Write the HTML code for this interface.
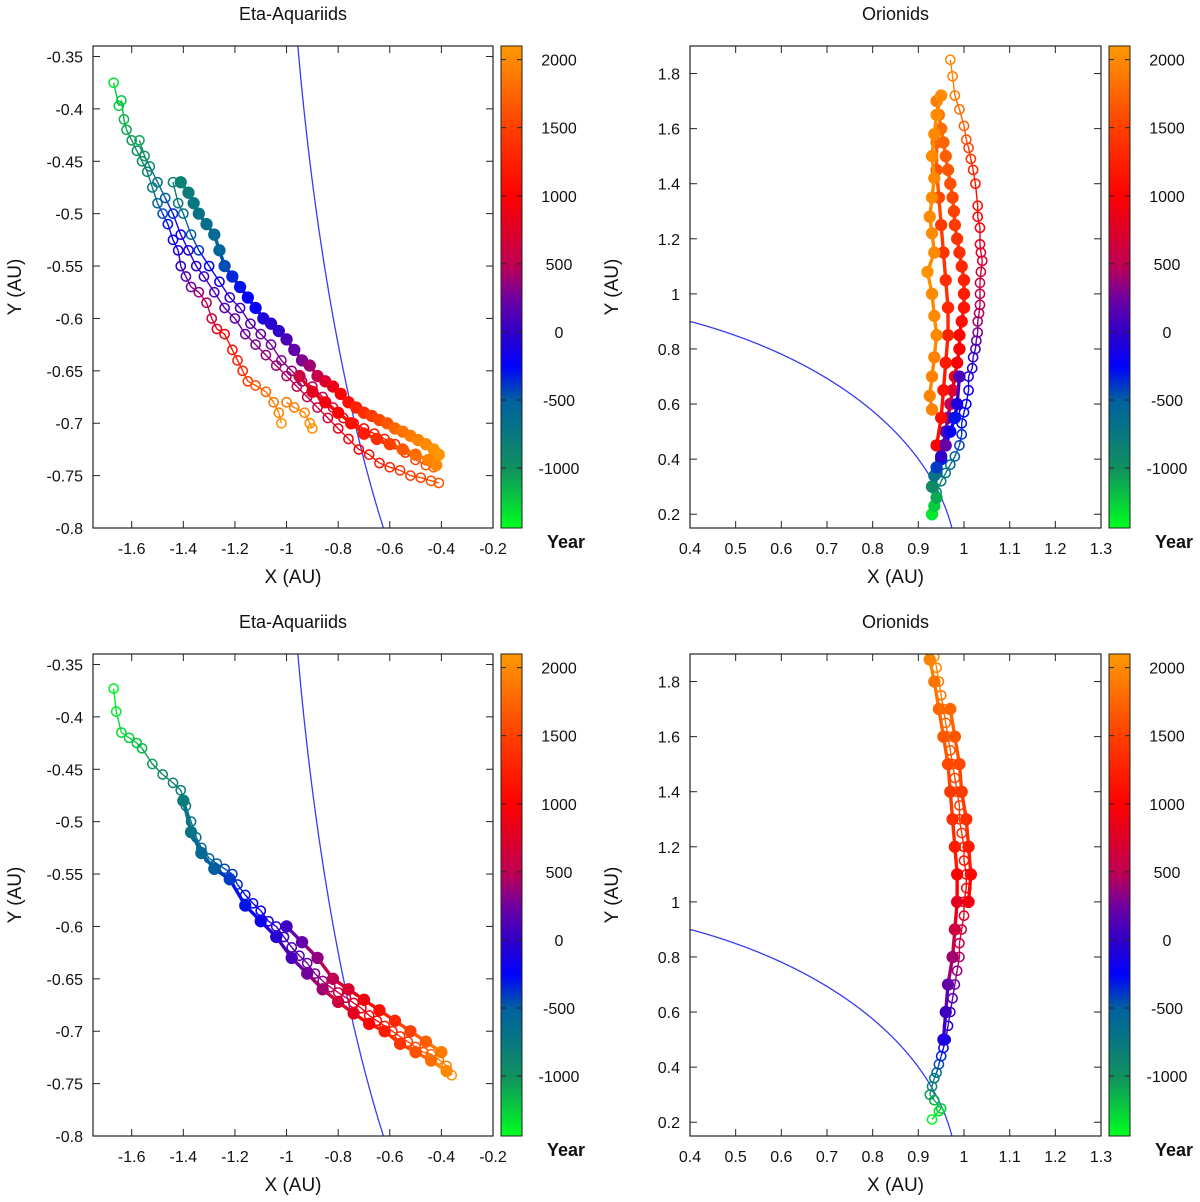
<!DOCTYPE html>
<html><head><meta charset="utf-8"><style>
html,body{margin:0;padding:0;background:#fff;width:1200px;height:1202px;overflow:hidden;}
svg{display:block;}
svg text{font-family:"Liberation Sans","DejaVu Sans",sans-serif;fill:#111;}
</style></head><body>
<svg id="fig" width="1200" height="1202" viewBox="0 0 1200 1202" xmlns="http://www.w3.org/2000/svg"></svg>
<script>
// ---- Data: each point is [x AU, y AU, year] ----
const xTicksLeft = [-1.6,-1.4,-1.2,-1,-0.8,-0.6,-0.4,-0.2];
const yTicksLeft = [-0.35,-0.4,-0.45,-0.5,-0.55,-0.6,-0.65,-0.7,-0.75,-0.8];
const xTicksRight = [0.4,0.5,0.6,0.7,0.8,0.9,1,1.1,1.2,1.3];
const yTicksRight = [0.2,0.4,0.6,0.8,1,1.2,1.4,1.6,1.8];
const cbTicks = [2000,1500,1000,500,0,-500,-1000];

const tlOpen1 = [[-1.67,-0.375,-1350],[-1.65,-0.397,-1250],[-1.64,-0.392,-1200],[-1.63,-0.41,-1150],[-1.62,-0.42,-1100],[-1.6,-0.43,-1050],[-1.58,-0.44,-1000],[-1.56,-0.45,-950],[-1.54,-0.46,-900],[-1.52,-0.475,-800],[-1.5,-0.49,-600],[-1.48,-0.5,-450],[-1.46,-0.51,-300],[-1.44,-0.525,-200],[-1.42,-0.535,-100],[-1.41,-0.55,0],[-1.39,-0.56,150],[-1.37,-0.57,250],[-1.34,-0.575,350],[-1.31,-0.585,450],[-1.29,-0.6,600],[-1.27,-0.61,800],[-1.24,-0.615,1000],[-1.21,-0.63,1100],[-1.19,-0.64,1200],[-1.17,-0.65,1300],[-1.15,-0.66,1450],[-1.12,-0.664,1600],[-1.08,-0.67,1750],[-1.05,-0.68,1850],[-1.03,-0.69,1950],[-1.02,-0.70,2050]];
const tlOpen2 = [[-1.57,-0.43,-1100],[-1.55,-0.445,-1000],[-1.53,-0.455,-900],[-1.5,-0.47,-700],[-1.47,-0.485,-500],[-1.44,-0.5,-350],[-1.41,-0.52,-200],[-1.38,-0.535,-100],[-1.35,-0.55,0],[-1.32,-0.56,50],[-1.28,-0.575,100],[-1.24,-0.59,150],[-1.2,-0.6,200],[-1.16,-0.615,250],[-1.12,-0.625,300],[-1.08,-0.635,350],[-1.04,-0.645,400],[-1.0,-0.655,450],[-0.96,-0.665,500],[-0.92,-0.675,550],[-0.88,-0.685,600],[-0.84,-0.695,700],[-0.8,-0.705,800],[-0.76,-0.715,900],[-0.72,-0.725,1000],[-0.68,-0.73,1100],[-0.64,-0.738,1200],[-0.6,-0.742,1300],[-0.56,-0.745,1400],[-0.52,-0.75,1500],[-0.48,-0.752,1550],[-0.44,-0.755,1600],[-0.41,-0.757,1650]];
const tlOpen3 = [[-1.44,-0.47,-900],[-1.42,-0.49,-800],[-1.4,-0.5,-700],[-1.37,-0.52,-550],[-1.34,-0.535,-400],[-1.3,-0.55,-250],[-1.26,-0.565,-150],[-1.22,-0.58,-50],[-1.18,-0.59,50],[-1.14,-0.605,150],[-1.1,-0.615,200],[-1.06,-0.625,250],[-1.02,-0.64,300],[-0.98,-0.65,350],[-0.94,-0.66,400],[-0.9,-0.665,500],[-0.86,-0.675,600],[-0.82,-0.685,700],[-0.78,-0.695,800],[-0.74,-0.7,900],[-0.7,-0.705,1000],[-0.66,-0.71,1100],[-0.62,-0.715,1200],[-0.58,-0.72,1300],[-0.54,-0.728,1400],[-0.5,-0.735,1500],[-0.46,-0.74,1600],[-0.43,-0.742,1700]];
const tlSpur = [[-1.0,-0.68,1850],[-0.97,-0.685,1900],[-0.93,-0.69,1950],[-0.91,-0.70,2000],[-0.9,-0.705,2050]];
const tlFilled1 = [[-1.41,-0.47,-850],[-1.38,-0.48,-800],[-1.36,-0.49,-750],[-1.34,-0.5,-700],[-1.31,-0.51,-650],[-1.28,-0.52,-600],[-1.26,-0.535,-550],[-1.24,-0.55,-450],[-1.21,-0.56,-350],[-1.18,-0.57,-300],[-1.15,-0.58,-250],[-1.12,-0.59,-200],[-1.09,-0.6,-100],[-1.06,-0.605,-50],[-1.03,-0.612,0],[-1.0,-0.62,100],[-0.97,-0.63,200],[-0.94,-0.64,300],[-0.91,-0.645,400],[-0.88,-0.655,550],[-0.85,-0.66,700],[-0.82,-0.665,850],[-0.79,-0.672,1000],[-0.76,-0.68,1100],[-0.73,-0.685,1250],[-0.7,-0.69,1350],[-0.67,-0.693,1450],[-0.64,-0.697,1550],[-0.61,-0.7,1650],[-0.58,-0.705,1750],[-0.55,-0.708,1850],[-0.52,-0.712,1900],[-0.49,-0.716,1950],[-0.46,-0.72,2000],[-0.43,-0.725,2050],[-0.41,-0.73,2080]];
const tlFilled2 = [[-0.95,-0.655,600],[-0.9,-0.67,800],[-0.85,-0.68,900],[-0.8,-0.69,1000],[-0.75,-0.7,1100],[-0.7,-0.71,1200],[-0.65,-0.715,1350],[-0.6,-0.72,1500],[-0.55,-0.725,1650],[-0.5,-0.73,1800],[-0.45,-0.735,1950],[-0.42,-0.74,2000]];

const trOpenRight = [[0.97,1.85,2000],[0.975,1.79,1950],[0.98,1.72,1900],[0.99,1.67,1800],[1.0,1.61,1700],[1.005,1.56,1600],[1.01,1.53,1500],[1.015,1.49,1400],[1.02,1.45,1300],[1.025,1.4,1200],[1.03,1.32,1100],[1.03,1.28,1000],[1.035,1.24,900],[1.035,1.18,800],[1.037,1.15,750],[1.04,1.12,700],[1.037,1.08,650],[1.035,1.04,600],[1.035,1.0,550],[1.035,0.96,500],[1.033,0.93,450],[1.03,0.9,400],[1.03,0.86,300],[1.027,0.83,200],[1.025,0.8,100],[1.02,0.77,0],[1.018,0.73,-50],[1.01,0.7,-100],[1.01,0.65,-150],[1.005,0.6,-200],[1.0,0.57,-250],[0.995,0.53,-300],[0.995,0.49,-350],[0.99,0.45,-400],[0.98,0.41,-500],[0.97,0.38,-600],[0.96,0.35,-700],[0.95,0.32,-800],[0.94,0.28,-900]];
const trFilledMain = [[0.93,0.3,-900],[0.94,0.35,-600],[0.95,0.4,-300],[0.955,0.45,-100],[0.96,0.5,100],[0.965,0.55,300],[0.97,0.6,500],[0.975,0.65,700],[0.98,0.7,850],[0.985,0.75,950],[0.99,0.8,1000],[0.99,0.85,1050],[0.995,0.9,1100],[1.0,0.95,1150],[1.0,1.0,1200],[1.0,1.05,1250],[0.995,1.1,1300],[0.99,1.15,1350],[0.985,1.2,1400],[0.98,1.25,1450],[0.978,1.3,1500],[0.975,1.35,1550],[0.97,1.4,1600],[0.965,1.45,1650],[0.96,1.5,1700],[0.955,1.55,1750],[0.95,1.6,1800],[0.945,1.65,1850],[0.94,1.7,1900]];
const trFilledMid = [[0.94,0.45,1000],[0.95,0.55,1100],[0.955,0.65,1150],[0.96,0.75,1200],[0.965,0.85,1250],[0.965,0.95,1300],[0.96,1.05,1350],[0.955,1.15,1400],[0.95,1.25,1450],[0.945,1.35,1550],[0.94,1.45,1650],[0.94,1.55,1750]];
const trLeftOrange = [[0.93,0.58,1950],[0.925,0.63,1950],[0.93,0.7,1950],[0.935,0.77,1950],[0.94,0.85,2000],[0.935,0.92,2000],[0.93,1.0,2000],[0.92,1.08,2050],[0.935,1.15,2000],[0.93,1.22,2000],[0.925,1.28,2000],[0.93,1.35,2000],[0.935,1.42,2000],[0.93,1.5,2000],[0.935,1.58,2000],[0.94,1.65,2000],[0.95,1.72,2000]];
const trBottom = [[0.93,0.2,-1350],[0.935,0.23,-1250],[0.94,0.26,-1100],[0.93,0.3,-950],[0.935,0.34,-700],[0.94,0.37,-400],[0.95,0.41,0],[0.96,0.45,200],[0.97,0.5,-200],[0.98,0.55,-300],[0.985,0.6,-100],[0.99,0.7,100]];

const blTrack1 = [[-1.67,-0.373,-1400],[-1.66,-0.395,-1350],[-1.64,-0.415,-1300],[-1.61,-0.42,-1250],[-1.58,-0.425,-1200],[-1.56,-0.43,-1150],[-1.52,-0.445,-1050],[-1.48,-0.455,-950],[-1.44,-0.463,-850],[-1.41,-0.47,-800],[-1.39,-0.485,-750],[-1.37,-0.5,-700],[-1.35,-0.515,-650],[-1.33,-0.525,-600],[-1.3,-0.535,-550],[-1.27,-0.54,-500],[-1.24,-0.545,-450],[-1.21,-0.55,-400],[-1.19,-0.56,-350],[-1.16,-0.57,-300],[-1.13,-0.578,-250],[-1.1,-0.585,-200],[-1.07,-0.595,-100],[-1.04,-0.6,-50],[-1.01,-0.61,0],[-0.98,-0.62,100],[-0.95,-0.628,150],[-0.92,-0.635,200],[-0.89,-0.645,300],[-0.86,-0.652,350],[-0.83,-0.658,450],[-0.8,-0.663,550],[-0.77,-0.668,650],[-0.74,-0.673,750],[-0.71,-0.678,850],[-0.68,-0.685,950],[-0.65,-0.69,1050],[-0.62,-0.695,1150],[-0.59,-0.7,1250],[-0.56,-0.705,1350],[-0.53,-0.71,1450],[-0.5,-0.715,1550],[-0.47,-0.72,1650],[-0.44,-0.722,1750],[-0.41,-0.727,1850],[-0.38,-0.733,1950],[-0.36,-0.742,2050]];
const blTrack2 = [[-1.4,-0.48,-800],[-1.37,-0.51,-700],[-1.33,-0.53,-600],[-1.28,-0.545,-500],[-1.22,-0.555,-400],[-1.16,-0.58,-300],[-1.1,-0.595,-200],[-1.04,-0.61,-50],[-0.98,-0.63,100],[-0.92,-0.645,250],[-0.86,-0.66,400],[-0.8,-0.672,600],[-0.74,-0.683,800],[-0.68,-0.693,1000],[-0.62,-0.7,1200],[-0.56,-0.712,1400],[-0.5,-0.72,1600],[-0.44,-0.728,1800],[-0.38,-0.738,2000]];
const blTrack3 = [[-1.0,-0.6,50],[-0.94,-0.615,200],[-0.88,-0.63,350],[-0.82,-0.65,500],[-0.76,-0.66,700],[-0.7,-0.67,900],[-0.64,-0.68,1100],[-0.58,-0.69,1300],[-0.52,-0.7,1500],[-0.46,-0.71,1700],[-0.4,-0.72,1900]];

const brTrack1 = [[0.93,0.21,-1400],[0.945,0.24,-1300],[0.95,0.25,-1250],[0.935,0.28,-1150],[0.925,0.3,-1050],[0.93,0.33,-950],[0.935,0.36,-800],[0.94,0.38,-600],[0.945,0.41,-450],[0.95,0.44,-350],[0.955,0.47,-250],[0.96,0.5,-150],[0.965,0.55,-50],[0.97,0.6,50],[0.975,0.65,150],[0.98,0.7,250],[0.985,0.75,350],[0.99,0.8,450],[0.99,0.85,550],[0.995,0.9,650],[1.0,0.95,750],[1.0,1.0,850],[1.005,1.05,950],[1.005,1.1,1050],[1.0,1.15,1150],[1.0,1.2,1250],[0.995,1.25,1350],[0.99,1.3,1400],[0.99,1.35,1450],[0.985,1.4,1500],[0.98,1.45,1550],[0.975,1.5,1600],[0.97,1.55,1650],[0.965,1.6,1700],[0.96,1.65,1750],[0.955,1.7,1800],[0.95,1.75,1850],[0.945,1.8,1900],[0.94,1.85,1950],[0.935,1.89,2000]];
const brTrack2 = [[0.955,0.5,-100],[0.96,0.6,50],[0.965,0.7,200],[0.975,0.8,400],[0.98,0.9,600],[0.985,1.0,800],[0.985,1.1,1000],[0.98,1.2,1200],[0.975,1.3,1350],[0.97,1.4,1450],[0.965,1.5,1550],[0.955,1.6,1650],[0.945,1.7,1750],[0.935,1.8,1850],[0.925,1.88,1950]];
const brTrack3 = [[1.01,1.0,900],[1.015,1.1,1050],[1.01,1.2,1200],[1.005,1.3,1350],[0.995,1.4,1450],[0.99,1.5,1550],[0.98,1.6,1650],[0.97,1.7,1750]];

// ---- colormap ----
const cmapYears = [-1440,-1000,-500,-250,0,250,500,1000,1500,2100];
const cmapCols = [[0,255,32],[16,144,96],[0,96,160],[0,0,255],[48,0,200],[112,0,160],[192,0,80],[255,0,0],[255,64,0],[255,153,0]];
function color(yr){
  if(yr<=cmapYears[0]) return `rgb(${cmapCols[0]})`;
  for(let i=1;i<cmapYears.length;i++){
    if(yr<=cmapYears[i]){
      const t=(yr-cmapYears[i-1])/(cmapYears[i]-cmapYears[i-1]);
      const a=cmapCols[i-1],b=cmapCols[i];
      return `rgb(${a.map((v,k)=>Math.round(v+(b[k]-v)*t)).join(',')})`;
    }
  }
  return `rgb(${cmapCols[cmapCols.length-1]})`;
}

const NS='http://www.w3.org/2000/svg';
const svg=document.getElementById('fig');
function mk(tag,attrs,parent){const e=document.createElementNS(NS,tag);for(const k in attrs)e.setAttribute(k,attrs[k]);(parent||svg).appendChild(e);return e;}

function panel(p){
  const g=mk('g',{});
  
  
  const sx=v=>p.L+(v-p.xmin)/(p.xmax-p.xmin)*(p.R-p.L);
  const sy=v=>p.B-(v-p.ymin)/(p.ymax-p.ymin)*(p.B-p.T);
  const cid='clip'+p.id;
  const cp=mk('clipPath',{id:cid},g); mk('rect',{x:p.L,y:p.T,width:p.R-p.L,height:p.B-p.T},cp);
  const plot=mk('g',{'clip-path':`url(#${cid})`},g);
  
  
  // earth orbit: only points inside the plot box (plus small margin)
  let d='', pen=false;
  for(let i=0;i<=2880;i++){
    const a=i/2880*2*Math.PI;const X=sx(p.r*Math.cos(a)),Y=sy(p.r*Math.sin(a));
    if(X>=p.L-3&&X<=p.R+3&&Y>=p.T-3&&Y<=p.B+3){d+=(pen?'L':'M')+X.toFixed(1)+','+Y.toFixed(1);pen=true;}
    else pen=false;
  }
  const orb=mk('path',{d:d,fill:'none',stroke:'#3a3af0','stroke-width':1.3},plot);
  
  
  p.tracks.forEach((tr,ti)=>{
    const tg=mk('g',{},plot);
    
    
    const pts=tr.data;
    for(let i=1;i<pts.length;i++){
      mk('line',{x1:sx(pts[i-1][0]),y1:sy(pts[i-1][1]),x2:sx(pts[i][0]),y2:sy(pts[i][1]),stroke:color(pts[i][2]),'stroke-width':tr.filled?3.4:1.4},tg);
    }
    pts.forEach(q=>{
      const c=mk('circle',{cx:sx(q[0]),cy:sy(q[1]),r:tr.filled?5.4:4.6,fill:tr.filled?color(q[2]):'none',stroke:color(q[2]),'stroke-width':1.5},tg);
      
      
    });
  });
  const fr=mk('rect',{x:p.L,y:p.T,width:p.R-p.L,height:p.B-p.T,fill:'none',stroke:'#222','stroke-width':1.2},g);
  
  
  p.xt.forEach(v=>{const x=sx(v);
    mk('line',{x1:x,y1:p.B,x2:x,y2:p.B-7,stroke:'#222'},g);mk('line',{x1:x,y1:p.T,x2:x,y2:p.T+7,stroke:'#222'},g);
    const t=mk('text',{x:x,y:p.B+26,'text-anchor':'middle','font-size':16},g);t.textContent=String(v);
    
    
  });
  p.yt.forEach(v=>{const y=sy(v);
    mk('line',{x1:p.L,y1:y,x2:p.L+7,y2:y,stroke:'#222'},g);mk('line',{x1:p.R,y1:y,x2:p.R-7,y2:y,stroke:'#222'},g);
    const t=mk('text',{x:p.L-10,y:y+6,'text-anchor':'end','font-size':16},g);t.textContent=String(v);
    
    
  });
  const tt=mk('text',{x:(p.L+p.R)/2,y:p.T-26,'text-anchor':'middle','font-size':18},g);tt.textContent=p.title;
  
  
  const xl=mk('text',{x:(p.L+p.R)/2,y:p.B+55,'text-anchor':'middle','font-size':19},g);xl.textContent='X (AU)';
  
  
  const yx=p.L-72, yy=(p.T+p.B)/2;
  const yl=mk('text',{x:yx,y:yy,'text-anchor':'middle','font-size':19,transform:`rotate(-90 ${yx} ${yy})`},g);yl.textContent='Y (AU)';
  
  
  const cbL=p.R+8, cbW=21;
  const cb=mk('g',{},g);
  
  
  const cbMin=-1440, cbMax=2100;
  const cy=v=>p.B-(v-cbMin)/(cbMax-cbMin)*(p.B-p.T);
  const gid='grad'+p.id;
  const lg=mk('linearGradient',{id:gid,x1:0,y1:1,x2:0,y2:0},cb);
  cmapYears.forEach(yv=>mk('stop',{offset:((yv-cbMin)/(cbMax-cbMin)).toFixed(4),'stop-color':color(yv)},lg));
  mk('rect',{x:cbL,y:p.T,width:cbW,height:p.B-p.T,fill:`url(#${gid})`,stroke:'#222','stroke-width':1},cb);
  cbTicks.forEach(v=>{const y=cy(v);
    mk('line',{x1:cbL,y1:y,x2:cbL+5,y2:y,stroke:'#222'},cb);mk('line',{x1:cbL+cbW,y1:y,x2:cbL+cbW-5,y2:y,stroke:'#222'},cb);
    const t=mk('text',{x:cbL+cbW+37,y:y+6,'text-anchor':'middle','font-size':16},cb);t.textContent=String(v);
    
    
  });
  const yr=mk('text',{x:cbL+cbW+44,y:p.B+20,'text-anchor':'middle','font-size':18,'font-weight':'bold'},cb);yr.textContent='Year';
  
  
}

const leftBase={L:93,R:493,xmin:-1.75,xmax:-0.2,ymin:-0.8,ymax:-0.34,xt:xTicksLeft,yt:yTicksLeft,title:'Eta-Aquariids',r:1.015};
const rightBase={L:690,R:1101,xmin:0.4,xmax:1.3,ymin:0.15,ymax:1.9,xt:xTicksRight,yt:yTicksRight,title:'Orionids',r:0.985};
panel(Object.assign({},leftBase,{id:'tl',name:'eta-aquariids-top-panel',T:46,B:528,tracks:[
  {data:tlOpen1},{data:tlOpen2},{data:tlOpen3},{data:tlSpur},{data:tlFilled1,filled:true},{data:tlFilled2,filled:true}]}));
panel(Object.assign({},rightBase,{id:'tr',name:'orionids-top-panel',T:46,B:528,tracks:[
  {data:trOpenRight},{data:trFilledMain,filled:true},{data:trFilledMid,filled:true},{data:trLeftOrange,filled:true},{data:trBottom,filled:true}]}));
panel(Object.assign({},leftBase,{id:'bl',name:'eta-aquariids-bottom-panel',T:654,B:1136,tracks:[
  {data:blTrack1},{data:blTrack2,filled:true},{data:blTrack3,filled:true}]}));
panel(Object.assign({},rightBase,{id:'br',name:'orionids-bottom-panel',T:654,B:1136,tracks:[
  {data:brTrack1},{data:brTrack2,filled:true},{data:brTrack3,filled:true}]}));
</script>
</body></html>
